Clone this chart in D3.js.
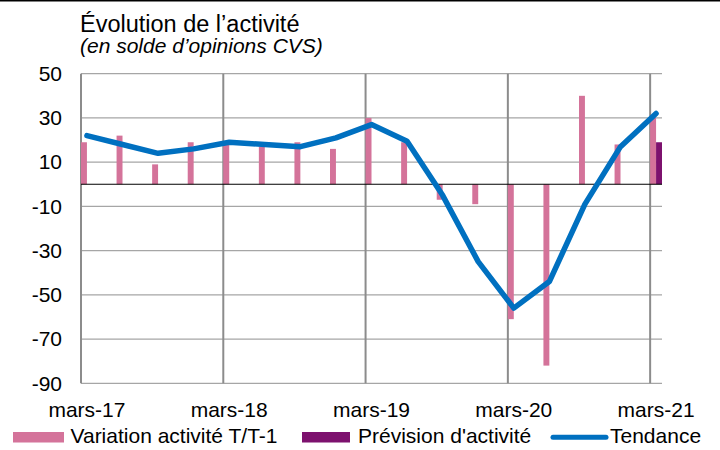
<!DOCTYPE html>
<html>
<head>
<meta charset="utf-8">
<script src="https://cdn.jsdelivr.net/npm/d3@7"></script>
<style>
  body { margin: 0; background: #fff; }
  svg { display: block; font-family: "Liberation Sans", Arial, sans-serif; }
</style>
</head>
<body>
<div id="chart"></div>
<script>
// quarters, mars-17 .. mars-21
var quarters = ["mars-17", "juin-17", "sept-17", "déc-17",
                "mars-18", "juin-18", "sept-18", "déc-18",
                "mars-19", "juin-19", "sept-19", "déc-19",
                "mars-20", "juin-20", "sept-20", "déc-20",
                "mars-21"];
var variation = [19, 22, 9, 19, 19, 17, 19, 16, 30, 19, -7, -9, -61, -82, 40, 18, 30];
var prevision = [null, null, null, null, null, null, null, null, null, null, null, null, null, null, null, null, 19];
var tendance = [22, 18, 14, 16, 19, 18, 17, 21, 27, 19.5, -5, -35, -56, -44, -9, 17, 32];
var yTicks = [50, 30, 10, -10, -30, -50, -70, -90];
var xLabels = ["mars-17", "mars-18", "mars-19", "mars-20", "mars-21"];

var width = 720, height = 450;
var pink = "#d4739a", purple = "#7d116e", blue = "#0070c0";
var barW = 1 / 6; // width of one bar, in quarters

var svg = d3.select("#chart").append("svg")
    .attr("width", width)
    .attr("height", height);

var x = d3.scaleLinear()
    .domain([0, quarters.length - 1 + 2 * barW])
    .range([81, 662]);

var y = d3.scaleLinear()
    .domain([-90, 50])
    .range([383.3, 73.7]);

// top rule
svg.append("line")
    .attr("x1", 0).attr("x2", width)
    .attr("y1", 0.75).attr("y2", 0.75)
    .attr("stroke", "#000").attr("stroke-width", 1.5);

// title
svg.append("text")
    .attr("x", 80).attr("y", 31.5)
    .attr("font-size", 23.5)
    .attr("fill", "#000")
    .text("Évolution de l’activité");
svg.append("text")
    .attr("x", 80).attr("y", 53)
    .attr("font-size", 21)
    .attr("font-style", "italic")
    .attr("fill", "#000")
    .text("(en solde d’opinions CVS)");

// horizontal gridlines
svg.append("g")
    .selectAll("line")
    .data(yTicks)
    .enter().append("line")
    .attr("x1", x.range()[0]).attr("x2", x.range()[1])
    .attr("y1", function (d) { return y(d); })
    .attr("y2", function (d) { return y(d); })
    .attr("stroke", "#a6a6a6")
    .attr("stroke-width", 1.3);

// vertical gridlines (one per year)
var yearIdx = quarters.map(function (d, i) { return i; })
    .filter(function (i) { return xLabels.indexOf(quarters[i]) >= 0; });

svg.append("g")
    .selectAll("line")
    .data(yearIdx)
    .enter().append("line")
    .attr("x1", function (i) { return x(i); })
    .attr("x2", function (i) { return x(i); })
    .attr("y1", y(50)).attr("y2", y(-90))
    .attr("stroke", "#8c8c8c")
    .attr("stroke-width", 2);

// y axis labels (plain hyphen for negatives, like the source)
var yAxis = d3.axisLeft(y)
    .tickValues(yTicks)
    .tickSize(0)
    .tickPadding(19)
    .tickFormat(function (d) { return String(d); });

svg.append("g")
    .attr("transform", "translate(" + x.range()[0] + ",0)")
    .call(yAxis)
    .call(function (g) { g.select(".domain").remove(); })
    .selectAll("text")
    .attr("font-size", 21)
    .attr("font-family", "Liberation Sans, Arial, sans-serif")
    .attr("fill", "#000");

// bars
svg.append("g")
    .selectAll("rect")
    .data(variation)
    .enter().append("rect")
    .attr("x", function (d, i) { return x(i); })
    .attr("width", x(barW) - x(0))
    .attr("y", function (d) { return y(Math.max(0, d)); })
    .attr("height", function (d) { return Math.abs(y(d) - y(0)); })
    .attr("fill", pink);

svg.append("g")
    .selectAll("rect")
    .data(prevision.map(function (d, i) { return { v: d, i: i }; })
        .filter(function (d) { return d.v !== null; }))
    .enter().append("rect")
    .attr("x", function (d) { return x(d.i + barW); })
    .attr("width", x(barW) - x(0))
    .attr("y", function (d) { return y(Math.max(0, d.v)); })
    .attr("height", function (d) { return Math.abs(y(d.v) - y(0)); })
    .attr("fill", purple);

// zero line
svg.append("line")
    .attr("x1", x.range()[0]).attr("x2", x.range()[1])
    .attr("y1", y(0)).attr("y2", y(0))
    .attr("stroke", "#000")
    .attr("stroke-width", 1.2);

// trend line
var line = d3.line()
    .x(function (d, i) { return x(i + barW); })
    .y(function (d) { return y(d); });

svg.append("path")
    .datum(tendance)
    .attr("d", line)
    .attr("fill", "none")
    .attr("stroke", blue)
    .attr("stroke-width", 5.5)
    .attr("stroke-linejoin", "round")
    .attr("stroke-linecap", "round");

// x labels
svg.append("g")
    .selectAll("text")
    .data(yearIdx)
    .enter().append("text")
    .attr("x", function (i) { return x(i + barW); })
    .attr("y", 417)
    .attr("text-anchor", "middle")
    .attr("font-size", 21)
    .attr("fill", "#000")
    .text(function (i) { return quarters[i]; });

// legend
var legend = svg.append("g").attr("font-size", 21).attr("fill", "#000");

legend.append("rect")
    .attr("x", 13).attr("y", 432).attr("width", 51).attr("height", 10.5)
    .attr("fill", pink);
legend.append("text").attr("x", 70.5).attr("y", 443)
    .text("Variation activité T/T-1");

legend.append("rect")
    .attr("x", 302).attr("y", 432).attr("width", 48).attr("height", 10.5)
    .attr("fill", purple);
legend.append("text").attr("x", 358).attr("y", 443)
    .text("Prévision d'activité");

legend.append("line")
    .attr("x1", 553).attr("x2", 606).attr("y1", 437.3).attr("y2", 437.3)
    .attr("stroke", blue).attr("stroke-width", 5).attr("stroke-linecap", "round");
legend.append("text").attr("x", 610).attr("y", 443)
    .text("Tendance");
</script>
</body>
</html>
